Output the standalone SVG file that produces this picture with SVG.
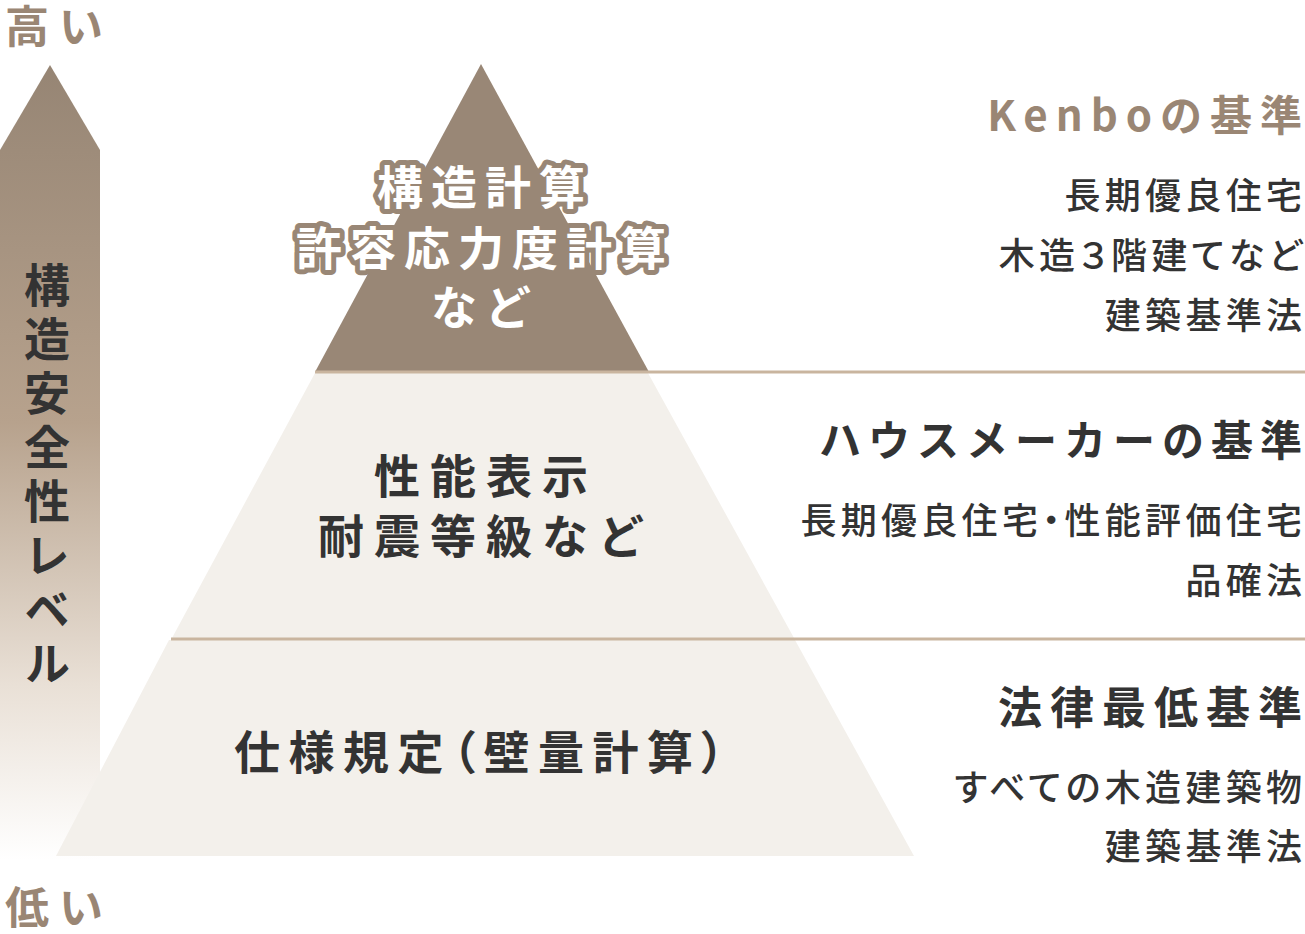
<svg xmlns="http://www.w3.org/2000/svg" width="1305" height="934" viewBox="0 0 1305 934">
<defs>
<linearGradient id="arrowGrad" x1="0" y1="65" x2="0" y2="860" gradientUnits="userSpaceOnUse">
<stop offset="0" stop-color="#968574"/>
<stop offset="0.45" stop-color="#b7a28d"/>
<stop offset="0.78" stop-color="#e9e0d6"/>
<stop offset="1" stop-color="#ffffff"/>
</linearGradient>
<style>
text{font-family:"Noto Sans CJK JP","Noto Sans",sans-serif;}
.lvl{font-size:44px;font-weight:700;fill:#9a8674;letter-spacing:10px;}
.axis{font-size:46px;font-weight:700;fill:#333333;letter-spacing:8px;}
.tier{fill:#f3f0eb;}
.top{fill:#998776;}
.toptxt{font-size:46px;font-weight:700;fill:#ffffff;stroke:#998776;stroke-width:10px;stroke-linejoin:round;paint-order:stroke;letter-spacing:8px;}
.midtxt{font-size:46px;font-weight:700;fill:#333333;letter-spacing:10px;}
.head{font-size:42px;font-weight:700;fill:#333333;letter-spacing:8px;text-anchor:end;}
.head.brown{fill:#9a8674;}
.body{font-size:36px;font-weight:500;fill:#333333;letter-spacing:4.3px;text-anchor:end;font-feature-settings:"palt";}
.last{letter-spacing:0px;}
.sep{stroke:#c9b59f;stroke-width:3;fill:none;}
</style>
</defs>
<g id="axis">
<path d="M50 65 L100 150 L100 860 L0 860 L0 150 Z" fill="url(#arrowGrad)"/>
<text class="axis" x="47" y="262" writing-mode="vertical-rl">構造安全性レベル</text>
<text class="lvl" x="5" y="43">高い</text>
<text class="lvl" x="5" y="924">低い</text>
</g>
<g id="tier-bottom">
<polygon class="tier" points="169,640 795,640 914,856 56,856"/>
<text class="midtxt" x="234" y="769" style="font-feature-settings:'palt';letter-spacing:8.5px">仕様規定（壁量計算）</text>
</g>
<g id="tier-middle">
<polygon class="tier" points="315,373 648,373 794,638 172,638"/>
<text class="midtxt" text-anchor="middle" x="486" y="493">性能表示</text>
<text class="midtxt" text-anchor="middle" x="486" y="553">耐震等級など</text>
</g>
<g id="tier-top">
<polygon class="top" points="481,64 649,372 315,372"/>
<text class="toptxt" text-anchor="middle" x="485" y="204">構造計算</text>
<text class="toptxt" text-anchor="middle" x="485" y="265">許容応力度計算</text>
<text class="toptxt" text-anchor="middle" x="485" y="324">など</text>
</g>
<g id="connectors">
<line class="sep" x1="315" y1="372" x2="1305" y2="372"/>
<line class="sep" x1="171" y1="639" x2="1305" y2="639"/>
</g>
<g id="std-kenbo">
<text class="head brown" x="1302" y="131">Kenboの基<tspan class="last">準</tspan></text>
<text class="body" x="1302" y="209">長期優良住<tspan class="last">宅</tspan></text>
<text class="body" x="1302" y="269">木造３階建てな<tspan class="last">ど</tspan></text>
<text class="body" x="1302" y="329">建築基準<tspan class="last">法</tspan></text>
</g>
<g id="std-maker">
<text class="head" x="1302" y="456" style="letter-spacing:7px">ハウスメーカーの基<tspan class="last">準</tspan></text>
<text class="body" x="1302" y="534">長期優良住宅・性能評価住<tspan class="last">宅</tspan></text>
<text class="body" x="1302" y="594">品確<tspan class="last">法</tspan></text>
</g>
<g id="std-law">
<text class="head" x="1302" y="724" style="font-size:44px">法律最低基<tspan class="last">準</tspan></text>
<text class="body" x="1302" y="801">すべての木造建築<tspan class="last">物</tspan></text>
<text class="body" x="1302" y="860">建築基準<tspan class="last">法</tspan></text>
</g>
</svg>
